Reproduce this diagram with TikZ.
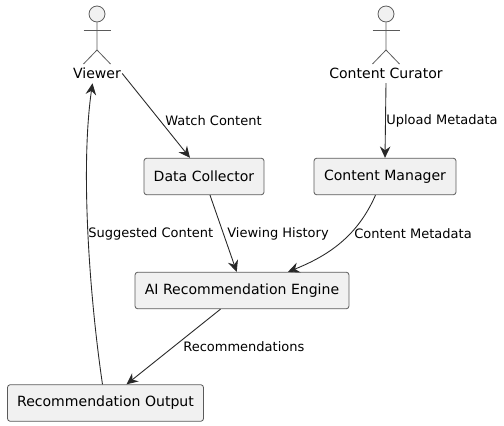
\documentclass[tikz,border=0pt]{standalone}
\usepackage{fontspec}
\setmainfont{DejaVu Sans}
\usetikzlibrary{arrows.meta}
\definecolor{boxfill}{HTML}{F1F1F1}
\definecolor{boxline}{HTML}{5A5A5A}
\definecolor{lineink}{HTML}{282828}
\tikzset{
  compbox/.style={draw=boxline,fill=boxfill,line width=0.45pt,rounded corners=1.5pt,minimum height=0.73cm,inner sep=0pt,font=\fontsize{8}{9.6}\selectfont,text=black},
  flow/.style={draw=lineink,line width=0.5pt,-{Stealth[inset=2.2pt,length=6.5pt,width=6pt]}},
  flowlabel/.style={inner sep=0pt,anchor=west,font=\fontsize{7.4}{9}\selectfont,text=black},
  actorline/.style={draw=boxline,line width=0.45pt},
  actorname/.style={inner sep=0pt,font=\fontsize{8}{9.6}\selectfont,text=black}
}
\begin{document}
\begin{tikzpicture}[x=0.02cm,y=-0.02cm]
\useasboundingbox (0,0) rectangle (504,426);

% Actors
\foreach \actorX/\actorId/\actorText in {97/viewer/Viewer,386/curator/Content Curator}{
  \node[circle,draw=boxline,fill=boxfill,line width=0.45pt,minimum size=0.32cm,inner sep=0pt] (\actorId head) at (\actorX,14) {};
  \draw[actorline] (\actorId head.south) -- (\actorX,50) -- (\actorX-13.5,64);
  \draw[actorline] (\actorX,50) -- (\actorX+13.5,64);
  \draw[actorline] (\actorX-13.5,30) -- (\actorX+13.5,30);
  \node[actorname] (\actorId) at (\actorX,73.5) {\actorText};
}

% Components
\node[compbox,minimum width=2.4cm] (collector) at (204,176.5) {Data Collector};
\node[compbox,minimum width=2.84cm] (manager) at (385,176.5) {Content Manager};
\node[compbox,minimum width=4.28cm] (engine) at (242,290.5) {AI Recommendation Engine};
\node[compbox,minimum width=3.92cm] (output) at (105.5,403) {Recommendation Output};

% Flows
\draw[flow] ([xshift=0.02cm]viewer.east) -- ([xshift=-0.28cm]collector.north);
\draw[flow] ([yshift=-0.08cm]curator.south) -- (manager.north);
\draw[flow] ([xshift=0.12cm]collector.south) -- ([xshift=-0.106cm]engine.north);
\draw[flow] ([xshift=-0.19cm]manager.south) .. controls (358,235) and (330,255) .. ([xshift=0.92cm]engine.north);
\draw[flow] ([xshift=-0.43cm]engine.south) -- ([xshift=0.42cm]output.north);
\draw[flow] ([xshift=-0.06cm]output.north) .. controls (90,300) and (80,170) .. ([yshift=-0.08cm,xshift=-0.09cm]viewer.south);

% Labels
\node[flowlabel] (watchlabel) at (165,120.5) {Watch Content};
\node[flowlabel] (uploadlabel) at (386,120.5) {Upload Metadata};
\node[flowlabel] (historylabel) at (227,233.5) {Viewing History};
\node[flowlabel] (metalabel) at (354,233.5) {Content Metadata};
\node[flowlabel] (suggestlabel) at (88,233.5) {Suggested Content};
\node[flowlabel] (reclabel) at (183,346.5) {Recommendations};
\end{tikzpicture}
\end{document}
